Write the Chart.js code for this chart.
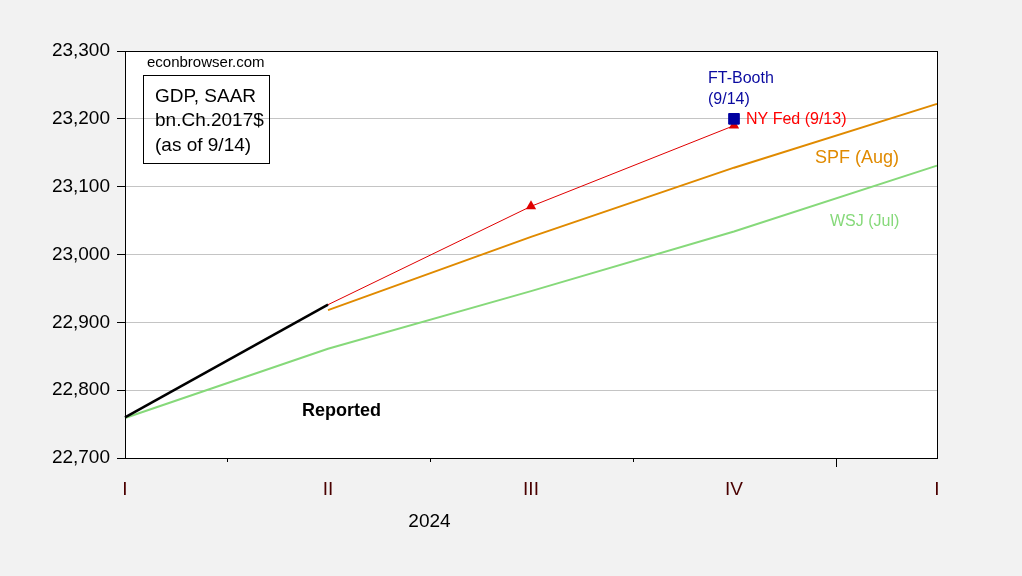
<!DOCTYPE html>
<html>
<head>
<meta charset="utf-8">
<script src="https://cdn.jsdelivr.net/npm/chart.js@4/dist/chart.umd.min.js"></script>
<style>
  html, body { margin: 0; padding: 0; background: #f2f2f2; }
  #wrap { width: 1022px; height: 576px; position: relative; }
</style>
</head>
<body>
<div id="wrap"><canvas id="gdp"></canvas></div>
<script>
// quarters 2024:Q1 .. 2025:Q1
const quarters = ["I", "II", "III", "IV", "I"];
const reported = [22760, 22926, null, null, null];
const wsj = [22759, 22861, 22946, 23034, 23131];
const spf = [null, 22918, 23026, 23128, 23222];
const nyFed = [null, 22926, 23071, 23190, null];
const ftBooth = [null, null, null, 23200, null];
const yTicks = [22700, 22800, 22900, 23000, 23100, 23200, 23300];

const FONT = "'Liberation Sans', Arial, sans-serif";

// background, frame, minor ticks and text notes
const decor = {
  id: "decor",
  beforeDraw(chart) {
    const ctx = chart.ctx, a = chart.chartArea;
    ctx.save();
    ctx.fillStyle = "#f2f2f2";
    ctx.fillRect(0, 0, chart.width, chart.height);
    ctx.fillStyle = "#ffffff";
    ctx.fillRect(a.left, a.top, a.right - a.left, a.bottom - a.top);
    ctx.restore();
  },
  afterDraw(chart) {
    const ctx = chart.ctx, a = chart.chartArea;
    const x = chart.scales.x;
    ctx.save();
    ctx.strokeStyle = "#000";
    ctx.lineWidth = 1;
    ctx.strokeRect(a.left + 0.5, a.top + 0.5, a.right - a.left, a.bottom - a.top);

    // ticks between quarters, the last one marks the year end
    for (let i = 0; i < quarters.length - 1; i++) {
      const px = Math.round((x.getPixelForValue(i) + x.getPixelForValue(i + 1)) / 2) + 0.5;
      const len = i === 3 ? 9 : 4;
      ctx.beginPath();
      ctx.moveTo(px, a.bottom);
      ctx.lineTo(px, a.bottom + len);
      ctx.stroke();
    }

    ctx.textBaseline = "alphabetic";
    ctx.fillStyle = "#000";
    ctx.font = "19px " + FONT;
    ctx.textAlign = "center";
    ctx.fillText("2024", (x.getPixelForValue(1) + x.getPixelForValue(2)) / 2, 527);

    ctx.textAlign = "left";
    ctx.font = "15px " + FONT;
    ctx.fillText("econbrowser.com", 147, 67);

    ctx.strokeRect(143.5, 75.5, 126, 88);
    ctx.font = "19px " + FONT;
    ctx.fillText("GDP, SAAR", 155, 102);
    ctx.fillText("bn.Ch.2017$", 155, 126);
    ctx.fillText("(as of 9/14)", 155, 151);

    ctx.fillStyle = "#0a0aa0";
    ctx.font = "16px " + FONT;
    ctx.fillText("FT-Booth", 708, 83);
    ctx.fillText("(9/14)", 708, 104);

    ctx.fillStyle = "#ff0000";
    ctx.font = "16px " + FONT;
    ctx.fillText("NY Fed (9/13)", 746, 124);

    ctx.fillStyle = "#e08a00";
    ctx.font = "18px " + FONT;
    ctx.fillText("SPF (Aug)", 815, 163);

    ctx.fillStyle = "#86d97a";
    ctx.font = "16px " + FONT;
    ctx.fillText("WSJ (Jul)", 830, 226);

    ctx.fillStyle = "#000";
    ctx.font = "bold 18px " + FONT;
    ctx.fillText("Reported", 302, 416);
    ctx.restore();
  }
};

new Chart(document.getElementById("gdp"), {
  type: "line",
  data: {
    labels: quarters,
    datasets: [
      {
        label: "FT-Booth (9/14)",
        data: ftBooth,
        showLine: false,
        pointStyle: "rect",
        pointRadius: 7.5,
        pointBackgroundColor: "#0000a0",
        pointBorderColor: "#0000a0",
        pointBorderWidth: 1,
      },
      {
        label: "NY Fed (9/13)",
        data: nyFed,
        borderColor: "#e00000",
        borderWidth: 1,
        pointStyle: "triangle",
        pointRadius: [0, 0, 6, 6, 0],
        pointBackgroundColor: "#e00000",
        pointBorderColor: "#e00000",
        pointBorderWidth: 0,
      },
      {
        label: "Reported",
        data: reported,
        borderColor: "#000000",
        borderWidth: 2.5,
        pointRadius: 0,
      },
      {
        label: "SPF (Aug)",
        data: spf,
        borderColor: "#e08a00",
        borderWidth: 2,
        pointRadius: 0,
      },
      {
        label: "WSJ (Jul)",
        data: wsj,
        borderColor: "#86d97a",
        borderWidth: 2,
        pointRadius: 0,
      },
    ],
  },
  options: {
    responsive: true,
    maintainAspectRatio: false,
    animation: false,
    spanGaps: false,
    layout: { padding: { top: 51, right: 85, left: 0, bottom: 0 } },
    plugins: {
      legend: { display: false },
      title: { display: false },
      tooltip: { enabled: false },
    },
    scales: {
      x: {
        type: "category",
        offset: false,
        grid: { display: false },
        border: { display: false },
        ticks: {
          color: "#4a0000",
          font: { family: FONT, size: 19 },
          padding: 12,
          maxRotation: 0,
          autoSkip: false,
        },
        afterFit(scale) { scale.height = 118; },
      },
      y: {
        min: 22700,
        max: 23300,
        afterBuildTicks(scale) { scale.ticks = yTicks.map(v => ({ value: v })); },
        grid: { color: "#c4c4c4", tickColor: "#000", tickLength: 8, lineWidth: 1 },
        border: { display: false },
        ticks: {
          color: "#000",
          font: { family: FONT, size: 19 },
          padding: 7,
          callback: v => v.toLocaleString("en-US"),
        },
        afterFit(scale) { scale.width = 125; },
      },
    },
  },
  plugins: [decor],
});
</script>
</body>
</html>
